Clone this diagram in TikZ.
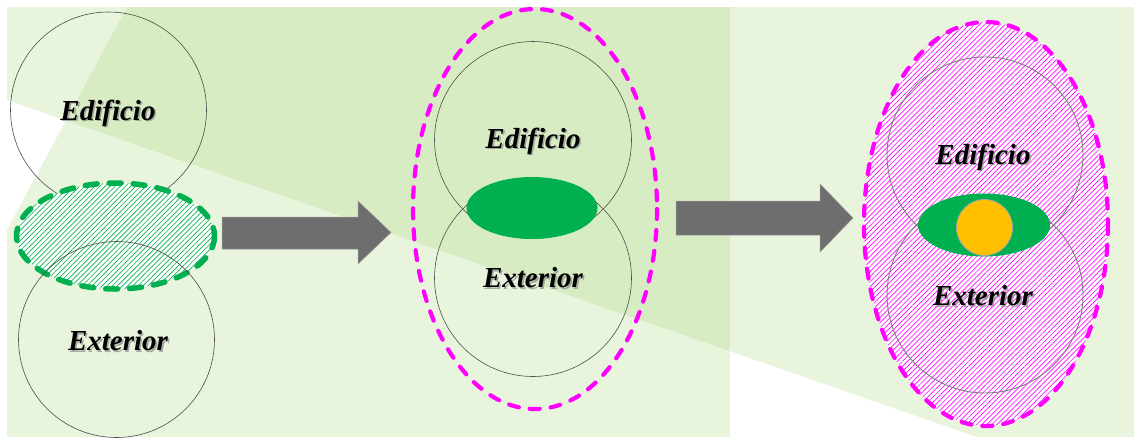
\documentclass[tikz,border=0pt]{standalone}
\usepackage{fontspec}
\setmainfont{Liberation Serif}
\usetikzlibrary{patterns.meta,calc}
\definecolor{bggreen}{RGB}{170,214,125}
\definecolor{okgreen}{RGB}{0,176,80}
\definecolor{mag}{RGB}{255,0,255}
\definecolor{orng}{RGB}{255,192,0}
\definecolor{arrgray}{RGB}{110,110,110}
\tikzset{
  bgshape/.style={fill=bggreen, fill opacity=0.27, draw=none},
  setcircle/.style={draw=black!70, line width=0.6pt},
  graycircle/.style={draw=black!50, line width=0.9pt},
  blockarrow/.style={fill=arrgray, draw=black!40, line width=0.5pt},
  hatch/.style={pattern={Lines[angle=45,distance=3.6pt,line width=0.65pt]}},
  magdash/.style={mag, line width=4.2pt, line cap=round, dash pattern=on 10pt off 11pt},
  lbl/.style={font=\fontsize{29}{30}\selectfont\bfseries\itshape},
  shadowlbl/.style={lbl, text=black!45, opacity=0.7},
}
\newcommand{\setlabel}[3]{%
  \node[shadowlbl] (#1s) at ($(#2)+(1.6,1.6)$) {#3};
  \node[lbl] (#1) at (#2) {#3};
}
\begin{document}
\begin{tikzpicture}[x=1pt,y=-1pt]
\useasboundingbox (0,0) rectangle (1134,439);
% background shapes
\fill[bgshape] (7,7) -- (1134,7) -- (1134,437) -- (977,437) -- (7,100) -- cycle;
\fill[bgshape] (127,7) -- (730,7) -- (730,437) -- (7,437) -- (7,230) -- cycle;

% ---------- left panel ----------
\draw[setcircle] (108.5,110) circle[radius=98];
\path[fill=white] (115.5,236) ellipse[x radius=99, y radius=53];
\path[hatch, pattern color=okgreen] (115.5,236) ellipse[x radius=99, y radius=53];
\draw[okgreen, line width=5.5pt, line cap=round, dash pattern=on 12pt off 12pt] (115.5,236) ellipse[x radius=99, y radius=53];
\draw[setcircle] (116.5,339.5) circle[radius=98];
\setlabel{ed1}{108,113}{Edificio}
\setlabel{ex1}{118,341}{Exterior}

% ---------- arrows ----------
\fill[blockarrow] (222,217) -- (358,217) -- (358,201) -- (391,232.5) -- (358,264) -- (358,249) -- (222,249) -- cycle;
\fill[blockarrow] (676,201) -- (820,201) -- (820,184) -- (853,218) -- (820,252) -- (820,235) -- (676,235) -- cycle;

% ---------- middle panel ----------
\draw[magdash] (535,209) ellipse[x radius=122, y radius=200];
\draw[setcircle] (533,140) circle[radius=98.5];
\draw[setcircle] (533,278) circle[radius=98.5];
\fill[okgreen] (532,208) ellipse[x radius=65.5, y radius=31];
\setlabel{ed2}{533,141}{Edificio}
\setlabel{ex2}{533,278}{Exterior}

% ---------- right panel ----------
\path[fill=white] (986,224) ellipse[x radius=122, y radius=202];
\path[hatch, pattern color=mag] (986,224) ellipse[x radius=122, y radius=202];
\draw[magdash] (986,224) ellipse[x radius=122, y radius=202];
\draw[graycircle] (985,155) circle[radius=98];
\draw[graycircle] (985,295) circle[radius=98];
\fill[okgreen] (984,225) ellipse[x radius=66, y radius=31.5];
\draw[fill=orng, draw=black!35, line width=0.8pt] (984.5,227.5) circle[radius=28];
\setlabel{ed3}{983,157}{Edificio}
\setlabel{ex3}{983,296}{Exterior}
\end{tikzpicture}
\end{document}
